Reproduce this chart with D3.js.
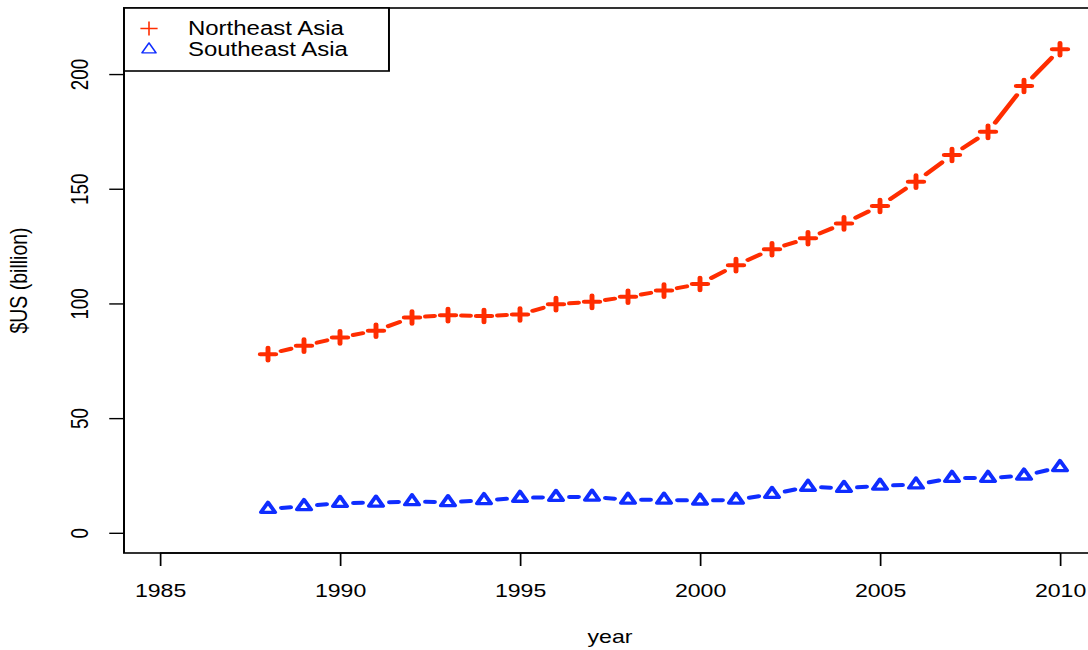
<!DOCTYPE html>
<html>
<head>
<meta charset="utf-8">
<script src="https://cdn.jsdelivr.net/npm/d3@7"></script>
<style>
  html, body { margin: 0; padding: 0; background: #ffffff; }
  svg { display: block; }
  text { font-family: "Liberation Sans", Arial, Helvetica, sans-serif; fill: #000; }
</style>
</head>
<body>
<svg id="chart" width="1088" height="650"></svg>
<script>
// Annual values, $US billion
const years = [1988, 1989, 1990, 1991, 1992, 1993, 1994, 1995, 1996, 1997, 1998, 1999,
               2000, 2001, 2002, 2003, 2004, 2005, 2006, 2007, 2008, 2009, 2010];
const northeastAsia = [77.9, 81.6, 85.2, 88.1, 93.9, 94.9, 94.5, 95.2, 99.7, 100.7, 102.9, 105.6,
                       108.5, 116.7, 123.6, 128.4, 134.9, 142.5, 153.1, 164.7, 174.8, 194.8, 210.8];
const southeastAsia = [10.4, 11.6, 13.0, 13.1, 13.7, 13.3, 14.2, 15.2, 15.6, 15.7, 14.4, 14.4,
                       14.0, 14.4, 16.9, 20.0, 19.5, 20.5, 21.0, 23.9, 23.9, 24.9, 28.6];
const seriesNames = ["Northeast Asia", "Southeast Asia"];
const xTicks = [1985, 1990, 1995, 2000, 2005, 2010];
const yTicks = [0, 50, 100, 150, 200];
const xTitle = "year";
const yTitle = "$US (billion)";

// The drawing is laid out on an 885-wide device and stretched horizontally to 1088.
const W0 = 885, H = 650;
const sx = 1088 / W0;
const tickFont = 18.8;
const labelFont = 19.5;
const red = "#ff2d00", blue = "#0f2dff";

const svg = d3.select("#chart");
const g = svg.append("g").attr("transform", `scale(${sx},1)`);

const x = d3.scaleLinear().domain([1984, 2011]).range([124 / sx, 1096 / sx]);
const y = d3.scaleLinear().domain([-8.8, 228.8]).range([553, 8]);

// plot frame
g.append("rect")
  .attr("x", x(1984)).attr("y", y(228.8))
  .attr("width", x(2011) - x(1984)).attr("height", y(-8.8) - y(228.8))
  .attr("fill", "none").attr("stroke", "#000").attr("stroke-width", 1.6);

// x axis
const xAxis = g.append("g").attr("transform", `translate(0,${y(-8.8)})`)
  .call(d3.axisBottom(x).tickValues(xTicks).tickFormat(d3.format("d")).tickSize(13).tickSizeOuter(0));
xAxis.select(".domain").attr("d", `M${x(xTicks[0])},0H${x(xTicks[xTicks.length - 1])}`)
  .attr("stroke", "#000").attr("stroke-width", 1.6);
xAxis.selectAll(".tick line").attr("stroke", "#000").attr("stroke-width", 1.4);
xAxis.selectAll(".tick text").attr("y", 44).attr("dy", 0)
  .style("font-size", tickFont + "px").style("font-family", null).attr("fill", "#000");

// y axis
const yAxis = g.append("g").attr("transform", `translate(${x(1984)},0)`)
  .call(d3.axisLeft(y).tickValues(yTicks).tickSize(12).tickSizeOuter(0));
yAxis.select(".domain").attr("d", `M0,${y(yTicks[0])}V${y(yTicks[yTicks.length - 1])}`)
  .attr("stroke", "#000").attr("stroke-width", 1.6);
yAxis.selectAll(".tick line").attr("stroke", "#000").attr("stroke-width", 1.4);
yAxis.selectAll(".tick text")
  .attr("x", null).attr("dy", 0).attr("text-anchor", "middle")
  .attr("transform", `translate(${71.6 - x(1984)},0) rotate(-90)`)
  .style("font-size", tickFont + "px").style("font-family", null).attr("fill", "#000");

// axis titles
g.append("text")
  .attr("x", (x(1984) + x(2011)) / 2).attr("y", 643)
  .attr("text-anchor", "middle").style("font-size", tickFont + "px")
  .text(xTitle);
g.append("text")
  .attr("transform", `translate(22,${(y(-8.8) + y(228.8)) / 2}) rotate(-90)`)
  .attr("text-anchor", "middle").style("font-size", labelFont + "px")
  .text(yTitle);

// marker shapes
function plusPath(r) { return `M${-r},0H${r}M0,${-r}V${r}`; }
function trianglePath(s) {
  const h = s * Math.sqrt(3) / 2;
  return `M0,${-2 * h / 3}L${s / 2},${h / 3}L${-s / 2},${h / 3}Z`;
}

// lines broken around each point, then the points
const gap = 11;
function drawSeries(values, color, markerPath, markerWidth) {
  const pts = years.map((yr, i) => [x(yr), y(values[i])]);
  const segs = d3.pairs(pts).map(([a, b]) => {
    const dx = b[0] - a[0], dy = b[1] - a[1];
    const len = Math.hypot(dx, dy);
    const ux = dx / len, uy = dy / len;
    return [[a[0] + ux * gap, a[1] + uy * gap], [b[0] - ux * gap, b[1] - uy * gap]];
  });
  const s = g.append("g");
  s.selectAll("path.seg").data(segs).join("path")
    .attr("class", "seg")
    .attr("d", d => d3.line()(d))
    .attr("fill", "none").attr("stroke", color).attr("stroke-width", 4)
    .attr("stroke-linecap", "round");
  s.selectAll("path.pt").data(pts).join("path")
    .attr("class", "pt")
    .attr("transform", d => `translate(${d[0]},${d[1]})`)
    .attr("d", markerPath)
    .attr("fill", "none").attr("stroke", color).attr("stroke-width", markerWidth)
    .attr("stroke-linecap", "round").attr("stroke-linejoin", "round");
}
drawSeries(northeastAsia, red, plusPath(6.3), 4);
drawSeries(southeastAsia, blue, trianglePath(11.5), 3.3);

// legend
const lg = g.append("g");
lg.append("rect")
  .attr("x", x(1984)).attr("y", 8)
  .attr("width", 316.4 - x(1984)).attr("height", 63)
  .attr("fill", "#fff").attr("stroke", "#000").attr("stroke-width", 1.6);
const legendItems = [
  { name: seriesNames[0], color: red, d: plusPath(7), cy: 28.5, base: 35 },
  { name: seriesNames[1], color: blue, d: trianglePath(11.5), cy: 49.5, base: 56 }
];
legendItems.forEach(it => {
  lg.append("path")
    .attr("transform", `translate(121.2,${it.cy})`)
    .attr("d", it.d).attr("fill", "none")
    .attr("stroke", it.color).attr("stroke-width", 1.3)
    .attr("stroke-linejoin", "round");
  lg.append("text")
    .attr("x", 152.9).attr("y", it.base)
    .style("font-size", labelFont + "px")
    .text(it.name);
});
</script>
</body>
</html>
